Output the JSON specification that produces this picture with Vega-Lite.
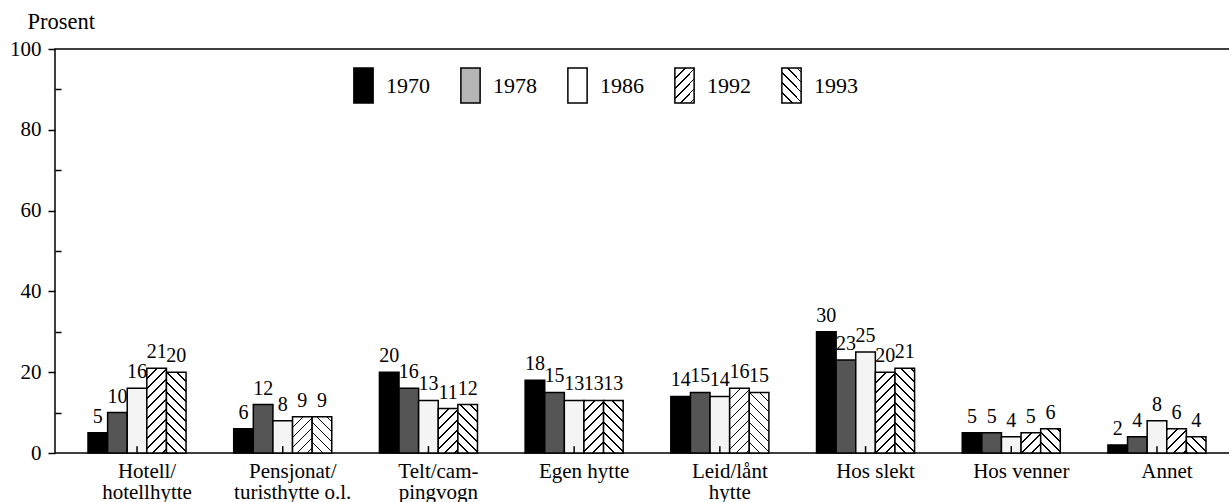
{
  "$schema": "https://vega.github.io/schema/vega-lite/v6.json",
  "width": 1184,
  "height": 404,
  "autosize": "none",
  "padding": {"left": 55, "top": 49, "right": 0, "bottom": 49},
  "background": "white",
  "config": {
    "font": "Liberation Serif",
    "view": {"stroke": "#000", "strokeWidth": 1.5},
    "axis": {"labelColor": "#000", "titleColor": "#000", "tickColor": "#000", "labelFont": "Liberation Serif", "titleFont": "Liberation Serif"},
    "legend": {"labelColor": "#000", "labelFont": "Liberation Serif"}
  },
  "params": [
    {"name": "hs", "value": [
      {"offset": 0, "color": "#000"}, {"offset": 0.0142, "color": "#000"}, {"offset": 0.0142, "color": "#fff"}, {"offset": 0.08333, "color": "#fff"},
      {"offset": 0.08333, "color": "#000"}, {"offset": 0.0975, "color": "#000"}, {"offset": 0.0975, "color": "#fff"}, {"offset": 0.16667, "color": "#fff"},
      {"offset": 0.16667, "color": "#000"}, {"offset": 0.1808, "color": "#000"}, {"offset": 0.1808, "color": "#fff"}, {"offset": 0.25, "color": "#fff"},
      {"offset": 0.25, "color": "#000"}, {"offset": 0.2642, "color": "#000"}, {"offset": 0.2642, "color": "#fff"}, {"offset": 0.33333, "color": "#fff"},
      {"offset": 0.33333, "color": "#000"}, {"offset": 0.3475, "color": "#000"}, {"offset": 0.3475, "color": "#fff"}, {"offset": 0.41667, "color": "#fff"},
      {"offset": 0.41667, "color": "#000"}, {"offset": 0.4308, "color": "#000"}, {"offset": 0.4308, "color": "#fff"}, {"offset": 0.5, "color": "#fff"},
      {"offset": 0.5, "color": "#000"}, {"offset": 0.5142, "color": "#000"}, {"offset": 0.5142, "color": "#fff"}, {"offset": 0.58333, "color": "#fff"},
      {"offset": 0.58333, "color": "#000"}, {"offset": 0.5975, "color": "#000"}, {"offset": 0.5975, "color": "#fff"}, {"offset": 0.66667, "color": "#fff"},
      {"offset": 0.66667, "color": "#000"}, {"offset": 0.6808, "color": "#000"}, {"offset": 0.6808, "color": "#fff"}, {"offset": 0.75, "color": "#fff"},
      {"offset": 0.75, "color": "#000"}, {"offset": 0.7642, "color": "#000"}, {"offset": 0.7642, "color": "#fff"}, {"offset": 0.83333, "color": "#fff"},
      {"offset": 0.83333, "color": "#000"}, {"offset": 0.8475, "color": "#000"}, {"offset": 0.8475, "color": "#fff"}, {"offset": 0.91667, "color": "#fff"},
      {"offset": 0.91667, "color": "#000"}, {"offset": 0.9308, "color": "#000"}, {"offset": 0.9308, "color": "#fff"}, {"offset": 1, "color": "#fff"}
    ]}
  ],
  "data": {"values": [
    {"cat": "Hotell/hotellhytte", "year": "1970", "pct": 5},
    {"cat": "Hotell/hotellhytte", "year": "1978", "pct": 10},
    {"cat": "Hotell/hotellhytte", "year": "1986", "pct": 16},
    {"cat": "Hotell/hotellhytte", "year": "1992", "pct": 21},
    {"cat": "Hotell/hotellhytte", "year": "1993", "pct": 20},
    {"cat": "Pensjonat/turisthytte o.l.", "year": "1970", "pct": 6},
    {"cat": "Pensjonat/turisthytte o.l.", "year": "1978", "pct": 12},
    {"cat": "Pensjonat/turisthytte o.l.", "year": "1986", "pct": 8},
    {"cat": "Pensjonat/turisthytte o.l.", "year": "1992", "pct": 9},
    {"cat": "Pensjonat/turisthytte o.l.", "year": "1993", "pct": 9},
    {"cat": "Telt/campingvogn", "year": "1970", "pct": 20},
    {"cat": "Telt/campingvogn", "year": "1978", "pct": 16},
    {"cat": "Telt/campingvogn", "year": "1986", "pct": 13},
    {"cat": "Telt/campingvogn", "year": "1992", "pct": 11},
    {"cat": "Telt/campingvogn", "year": "1993", "pct": 12},
    {"cat": "Egen hytte", "year": "1970", "pct": 18},
    {"cat": "Egen hytte", "year": "1978", "pct": 15},
    {"cat": "Egen hytte", "year": "1986", "pct": 13},
    {"cat": "Egen hytte", "year": "1992", "pct": 13},
    {"cat": "Egen hytte", "year": "1993", "pct": 13},
    {"cat": "Leid/lånt hytte", "year": "1970", "pct": 14},
    {"cat": "Leid/lånt hytte", "year": "1978", "pct": 15},
    {"cat": "Leid/lånt hytte", "year": "1986", "pct": 14},
    {"cat": "Leid/lånt hytte", "year": "1992", "pct": 16},
    {"cat": "Leid/lånt hytte", "year": "1993", "pct": 15},
    {"cat": "Hos slekt", "year": "1970", "pct": 30},
    {"cat": "Hos slekt", "year": "1978", "pct": 23},
    {"cat": "Hos slekt", "year": "1986", "pct": 25},
    {"cat": "Hos slekt", "year": "1992", "pct": 20},
    {"cat": "Hos slekt", "year": "1993", "pct": 21},
    {"cat": "Hos venner", "year": "1970", "pct": 5},
    {"cat": "Hos venner", "year": "1978", "pct": 5},
    {"cat": "Hos venner", "year": "1986", "pct": 4},
    {"cat": "Hos venner", "year": "1992", "pct": 5},
    {"cat": "Hos venner", "year": "1993", "pct": 6},
    {"cat": "Annet", "year": "1970", "pct": 2},
    {"cat": "Annet", "year": "1978", "pct": 4},
    {"cat": "Annet", "year": "1986", "pct": 8},
    {"cat": "Annet", "year": "1992", "pct": 6},
    {"cat": "Annet", "year": "1993", "pct": 4}
  ]},
  "encoding": {
    "x": {
      "field": "cat", "type": "nominal", "sort": null,
      "scale": {"paddingInner": 0.327, "paddingOuter": 0.2265},
      "axis": {
        "title": null, "labelAngle": 0, "labelFontSize": 21, "labelLineHeight": 21,
        "labelBaseline": "top", "labelPadding": 7, "labelOffset": 10,
        "labelExpr": "datum.label == 'Hotell/hotellhytte' ? ['Hotell/', 'hotellhytte'] : datum.label == 'Pensjonat/turisthytte o.l.' ? ['Pensjonat/', 'turisthytte o.l.'] : datum.label == 'Telt/campingvogn' ? ['Telt/cam-', 'pingvogn'] : datum.label == 'Leid/lånt hytte' ? ['Leid/lånt', 'hytte'] : datum.label",
        "domain": false, "ticks": false, "grid": false
      }
    },
    "xOffset": {"field": "year", "type": "nominal", "scale": {"paddingInner": 0, "paddingOuter": 0}},
    "y": {
      "field": "pct", "type": "quantitative",
      "scale": {"domain": [0, 100], "nice": false},
      "axis": {
        "title": "Prosent", "titleAngle": 0, "titleAlign": "left", "titleBaseline": "alphabetic",
        "titleX": -28, "titleY": -21, "titleFontSize": 22.5, "titleFontWeight": "normal",
        "values": [0, 10, 20, 30, 40, 50, 60, 70, 80, 90, 100],
        "labelExpr": "datum.value % 20 == 0 ? datum.label : ''",
        "labelFontSize": 21, "labelPadding": 7, "tickSize": 7, "tickWidth": 1.5,
        "tickOpacity": {"condition": {"test": "datum.value % 20 != 0", "value": 0}, "value": 1},
        "grid": true, "gridColor": "#000", "gridWidth": 1.5, "gridDash": [6, 3000],
        "gridOpacity": {"condition": {"test": "datum.value % 20 == 0", "value": 0}, "value": 1},
        "domain": false
      }
    }
  },
  "layer": [
    {
      "mark": {
        "type": "bar", "strokeWidth": 1.5,
        "fill": {"expr": "datum.year == '1970' ? '#000' : datum.year == '1978' ? '#555' : datum.year == '1986' ? '#f4f4f4' : {gradient: 'linear', x1: 0, y1: datum.year == '1992' ? 0 : 1, x2: 120 * bandwidth('xOffset') / (pow(bandwidth('xOffset'), 2) + pow(scale('y', 0) - scale('y', datum.pct), 2)), y2: datum.year == '1992' ? 120 * (scale('y', 0) - scale('y', datum.pct)) / (pow(bandwidth('xOffset'), 2) + pow(scale('y', 0) - scale('y', datum.pct), 2)) : 1 - 120 * (scale('y', 0) - scale('y', datum.pct)) / (pow(bandwidth('xOffset'), 2) + pow(scale('y', 0) - scale('y', datum.pct), 2)), stops: hs}"}
      },
      "encoding": {
        "stroke": {
          "field": "year", "type": "nominal",
          "scale": {"range": ["#000", "#000", "#000", "#000", "#000"]},
          "legend": {
            "title": null, "orient": "none", "legendX": 290, "legendY": 18,
            "direction": "horizontal", "columns": 5, "columnPadding": 22,
            "labelFontSize": 22, "labelOffset": 4,
            "symbolType": "M-0.55,-1H0.55V1H-0.55Z", "symbolSize": 1225, "symbolStrokeWidth": 1.5,
            "encoding": {
              "symbols": {
                "fillOpacity": {"value": 1},
                "fill": {"value": {"expr": "datum.value == '1970' ? '#000' : datum.value == '1978' ? '#b5b5b5' : datum.value == '1986' ? '#fff' : datum.value == '1992' ? {gradient: 'linear', x1: 0, y1: 0, x2: 1.4769, y2: 2.5846, stops: hs} : {gradient: 'linear', x1: 0, y1: 1, x2: 1.4769, y2: -1.5846, stops: hs}"}}
              }
            }
          }
        }
      }
    },
    {
      "transform": [{"filter": "datum.year == '1986'"}],
      "mark": {"type": "rule", "color": "#000", "strokeWidth": 1.5},
      "encoding": {
        "y": {"datum": 0},
        "y2": {"datum": 1.7}
      }
    },
    {
      "mark": {"type": "text", "baseline": "alphabetic", "dy": -10, "fontSize": 20, "color": "#000"},
      "encoding": {"text": {"field": "pct", "type": "quantitative"}}
    }
  ]
}
